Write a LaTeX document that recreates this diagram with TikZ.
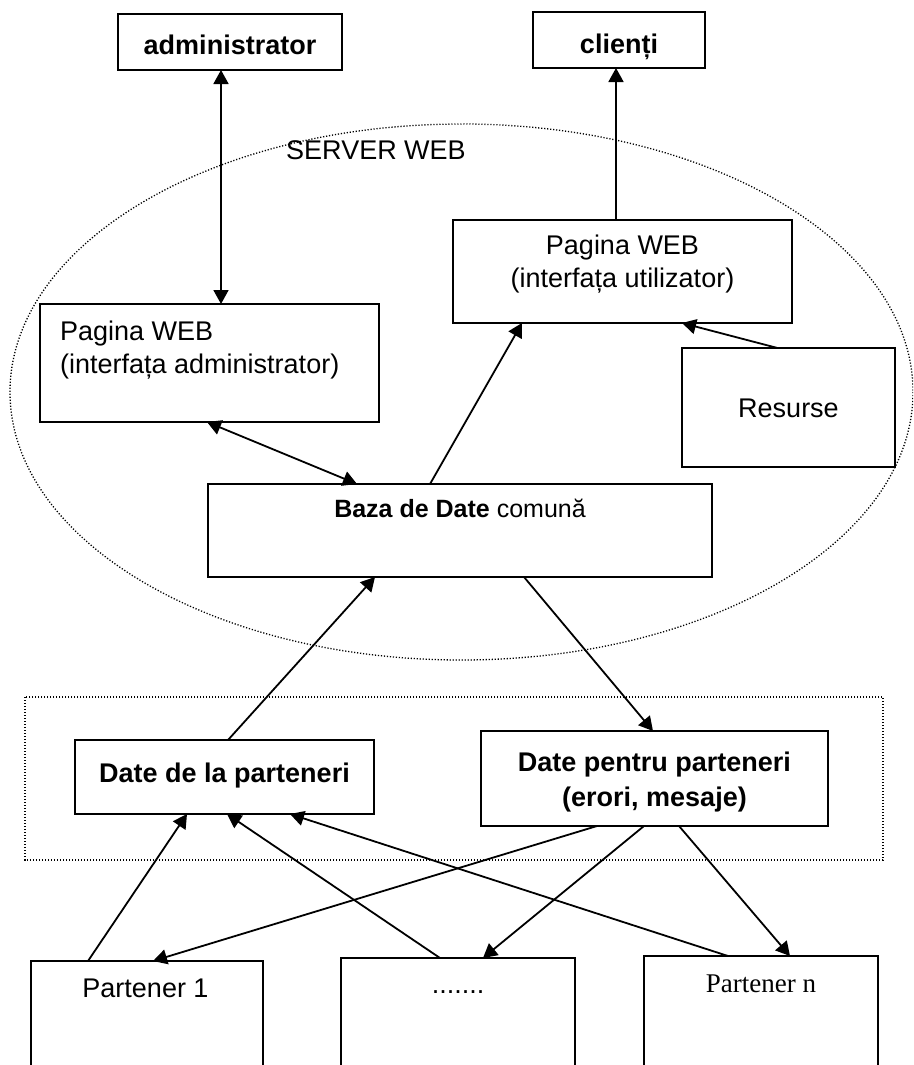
\documentclass[tikz,border=0pt]{standalone}
\usepackage{fontspec}
\setmainfont{Liberation Sans}
\newfontfamily\timesfont{Liberation Serif}
\usetikzlibrary{arrows.meta}
\begin{document}
\begin{tikzpicture}[x=1pt,y=-1pt,
  box/.style={draw,line width=2pt,anchor=north west,inner sep=0pt,outer sep=0pt},
  txt/.style={anchor=base,inner sep=0pt,font=\fontsize{27}{33}\selectfont},
  txtl/.style={anchor=base west,inner sep=0pt,font=\fontsize{27}{33}\selectfont},
  dots/.style={line width=1.3pt,dash pattern=on 1.2pt off 1.8pt},
  arr/.style={line width=1.8pt,-{Triangle[length=14pt,width=15pt]}},
  darr/.style={line width=1.8pt,{Triangle[length=14pt,width=15pt]}-{Triangle[length=14pt,width=15pt]}}]
\useasboundingbox (0,0) rectangle (913,1065);
\fill[white] (0,0) rectangle (913,1065);
\clip (0,0) rectangle (913,1065);

% server ellipse
\draw[dots] (461.5,392) ellipse [x radius=451.5, y radius=268];
\node[txt] (server) at (376,159) {SERVER WEB};

% partner group
\draw[dots] (25,697) rectangle (883,860);

% boxes
\node[box,minimum width=224pt,minimum height=56pt] (admin) at (118,14) {};
\node[box,minimum width=172pt,minimum height=56pt] (clienti) at (533,12) {};
\node[box,minimum width=339pt,minimum height=118pt] (adminpage) at (40,304) {};
\node[box,minimum width=339pt,minimum height=103pt] (userpage) at (453,220) {};
\node[box,minimum width=213pt,minimum height=119pt] (resurse) at (682,348) {};
\node[box,minimum width=504pt,minimum height=93pt] (baza) at (208,484) {};
\node[box,minimum width=299pt,minimum height=74pt] (datede) at (75,740) {};
\node[box,minimum width=347pt,minimum height=95pt] (datepentru) at (481,731) {};
\node[box,minimum width=232pt,minimum height=130pt] (p1) at (31,961) {};
\node[box,minimum width=234pt,minimum height=130pt] (pdots) at (341,958) {};
\node[box,minimum width=234pt,minimum height=130pt] (pn) at (644,956) {};

% texts
\node[txt] (admintxt) at (230,55) {\bfseries administrator};
\node[txt] (clientitxt) at (619,53) {\bfseries clienți};
\node[txtl] (ap1) at (60,340) {Pagina WEB};
\node[txtl] (ap2) at (60,373) {(interfața administrator)};
\node[txt] (up1) at (622.5,254) {Pagina WEB};
\node[txt] (up2) at (622.5,287) {(interfața utilizator)};
\node[txt] (resursetxt) at (788.5,417) {Resurse};
\node[txt,font=\fontsize{25}{30}\selectfont] (bazatxt) at (460,517) {\textbf{Baza de Date} comună};
\node[txt] (datedetxt) at (224.5,782) {\bfseries Date de la parteneri};
\node[txt] (dp1) at (654.5,771) {\bfseries Date pentru parteneri};
\node[txt] (dp2) at (654.5,806) {\bfseries (erori, mesaje)};
\node[txt] (p1txt) at (145.5,997) {Partener 1};
\node[txt] (pdotstxt) at (458,993) {.......};
\node[txt,font=\fontsize{27}{33}\timesfont] (pntxt) at (761,992) {Partener n};

% connectors
\draw[darr] ([xshift=-9pt]admin.south) -- ([xshift=11.5pt]adminpage.north);
\draw[arr] ([xshift=-6.5pt]userpage.north) -- ([xshift=-3pt]clienti.south);
\draw[darr] ([xshift=-2.5pt]adminpage.south) -- ([xshift=-103pt]baza.north);
\draw[arr] ([xshift=-30pt]baza.north) -- ([xshift=-100.5pt]userpage.south);
\draw[arr] ([xshift=-11pt]resurse.north) -- ([xshift=59.5pt]userpage.south);
\draw[arr] ([xshift=3.5pt]datede.north) -- ([xshift=-85pt]baza.south);
\draw[arr] ([xshift=64pt]baza.south) -- ([xshift=-1.5pt]datepentru.north);
\draw[arr] ([xshift=-59pt]p1.north) -- ([xshift=-37.5pt]datede.south);
\draw[arr] ([xshift=-18pt]pdots.north) -- ([xshift=2.5pt]datede.south);
\draw[arr] ([xshift=-33pt]pn.north) -- ([xshift=65.5pt]datede.south);
\draw[arr] ([xshift=-57.5pt]datepentru.south) -- ([xshift=6pt]p1.north);
\draw[arr] ([xshift=-10.5pt]datepentru.south) -- ([xshift=25pt]pdots.north);
\draw[arr] ([xshift=24.5pt]datepentru.south) -- ([xshift=29pt]pn.north);
\end{tikzpicture}
\end{document}
